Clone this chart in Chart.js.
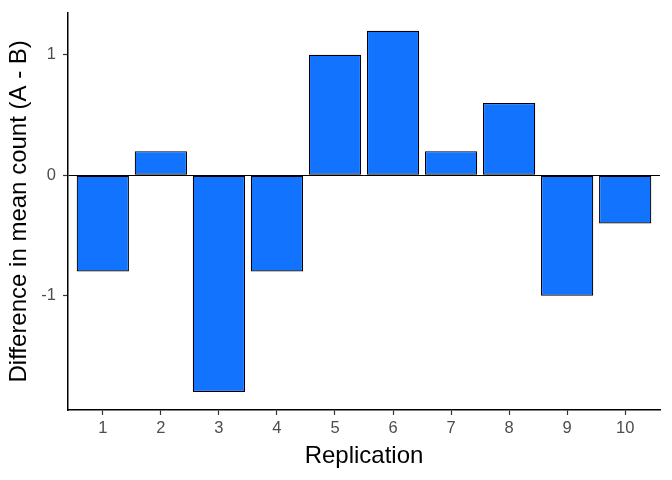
<!DOCTYPE html>
<html>
<head>
<meta charset="utf-8">
<script src="https://cdn.jsdelivr.net/npm/chart.js@4/dist/chart.umd.min.js"></script>
<style>
  html, body { margin: 0; padding: 0; background: #fff; }
  #chart { display: block; }
</style>
</head>
<body>
<canvas id="chart" width="672" height="480"></canvas>
<script>
const replications = [1, 2, 3, 4, 5, 6, 7, 8, 9, 10];
const differences = [-0.8, 0.2, -1.8, -0.8, 1.0, 1.2, 0.2, 0.6, -1.0, -0.4];
const yTicks = [-1, 0, 1];

const ctx = document.getElementById('chart').getContext('2d');
const fontFamily = '"Liberation Sans", Arial, Helvetica, sans-serif';

const myChart = new Chart(ctx, {
    type: 'bar',
    data: {
        datasets: [{
            label: 'Difference',
            data: replications.map((r, i) => ({ x: r, y: differences[i] })),
            backgroundColor: '#1273FF',
            borderColor: '#000000',
            borderWidth: 1.2,
            borderSkipped: false,
            barPercentage: 0.9,
            categoryPercentage: 1
        }]
    },
    options: {
        responsive: false,
        animation: false,
        layout: {
            padding: { top: 12.7, right: 12, left: 0, bottom: 0 }
        },
        plugins: {
            legend: { display: false },
            tooltip: { enabled: false }
        },
        scales: {
            x: {
                type: 'linear',
                min: 0.4,
                max: 10.6,
                offset: false,
                afterBuildTicks: scale => {
                    scale.ticks = replications.map(v => ({ value: v }));
                },
                afterFit: scale => {
                    scale.height = 70;
                    scale.paddingLeft = 0;
                    scale.paddingRight = 0;
                },
                grid: {
                    offset: false,
                    drawOnChartArea: false,
                    drawTicks: true,
                    tickLength: 5,
                    tickColor: '#333333',
                    tickWidth: 1.2
                },
                border: { display: true, color: '#000000', width: 1.5 },
                ticks: {
                    color: '#4D4D4D',
                    font: { family: fontFamily, size: 16.5 },
                    padding: 4,
                    maxRotation: 0,
                    autoSkip: false
                },
                title: {
                    display: true,
                    text: 'Replication',
                    color: '#000000',
                    font: { family: fontFamily, size: 24 },
                    padding: { top: 0, bottom: 9 }
                }
            },
            y: {
                type: 'linear',
                min: -1.95,
                max: 1.35,
                afterBuildTicks: scale => {
                    scale.ticks = yTicks.map(v => ({ value: v }));
                },
                afterFit: scale => {
                    scale.width = 68;
                    scale.paddingTop = 0;
                    scale.paddingBottom = 0;
                },
                grid: {
                    drawOnChartArea: true,
                    drawTicks: true,
                    tickLength: 5,
                    tickColor: '#333333',
                    tickWidth: 1.2,
                    color: c => (c.tick && c.tick.value === 0) ? '#000000' : 'rgba(0,0,0,0)',
                    lineWidth: 1
                },
                border: { display: true, color: '#000000', width: 1.5 },
                ticks: {
                    color: '#4D4D4D',
                    font: { family: fontFamily, size: 16.5 },
                    padding: 7,
                    callback: v => String(v)
                },
                title: {
                    display: true,
                    text: 'Difference in mean count (A - B)',
                    color: '#000000',
                    font: { family: fontFamily, size: 24 },
                    padding: { top: 5, bottom: 0 }
                }
            }
        }
    }
});
</script>
</body>
</html>
